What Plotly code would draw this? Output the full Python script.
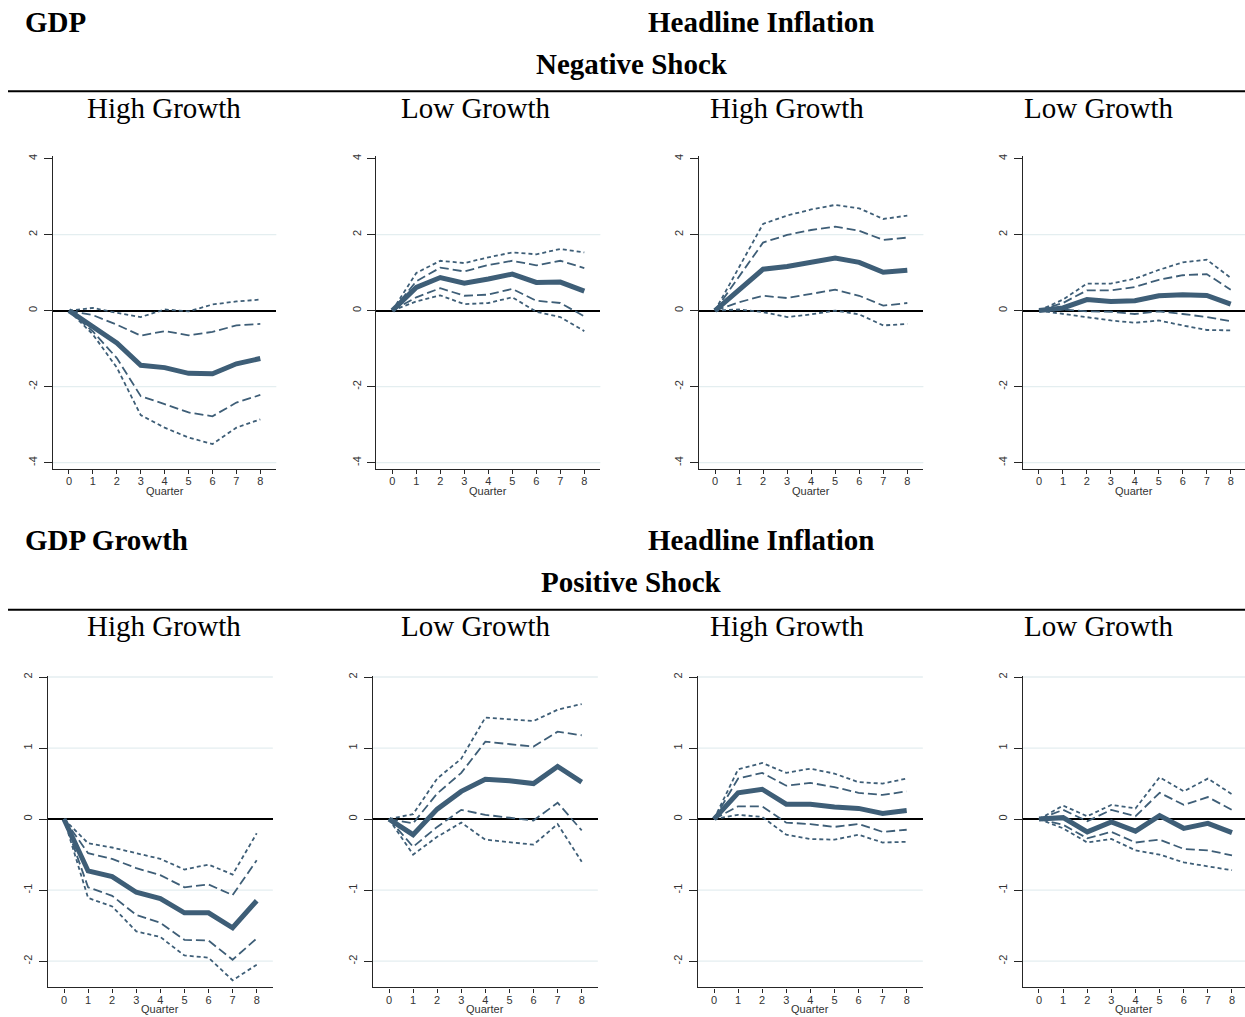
import plotly.graph_objects as go

W, H = 1245, 1017
quarters = list(range(9))

# ---- Impulse responses: point estimate (irf), 68% band (lo68/hi68), 90% band (lo90/hi90)
# GDP, negative shock, high growth
gdp_neg_high_irf = [0, -0.41, -0.85, -1.44, -1.50, -1.65, -1.66, -1.40, -1.26]
gdp_neg_high_hi68 = [0, -0.12, -0.37, -0.66, -0.54, -0.65, -0.56, -0.39, -0.35]
gdp_neg_high_hi90 = [0, 0.07, -0.06, -0.17, 0.03, -0.02, 0.16, 0.24, 0.29]
gdp_neg_high_lo68 = [0, -0.55, -1.25, -2.25, -2.46, -2.68, -2.78, -2.42, -2.22]
gdp_neg_high_lo90 = [0, -0.63, -1.50, -2.75, -3.08, -3.34, -3.51, -3.08, -2.86]

# GDP, negative shock, low growth
gdp_neg_low_irf = [0, 0.61, 0.87, 0.72, 0.83, 0.96, 0.74, 0.75, 0.51]
gdp_neg_low_hi68 = [0, 0.77, 1.13, 1.03, 1.20, 1.31, 1.19, 1.31, 1.12]
gdp_neg_low_hi90 = [0, 0.99, 1.31, 1.25, 1.40, 1.53, 1.48, 1.62, 1.53]
gdp_neg_low_lo68 = [0, 0.35, 0.59, 0.39, 0.42, 0.57, 0.26, 0.20, -0.15]
gdp_neg_low_lo90 = [0, 0.24, 0.40, 0.17, 0.20, 0.35, -0.03, -0.17, -0.54]

# Headline inflation, negative shock, high growth
inf_neg_high_irf = [0, 0.55, 1.09, 1.16, 1.27, 1.38, 1.27, 1.01, 1.06]
inf_neg_high_hi68 = [0, 0.90, 1.79, 1.99, 2.12, 2.21, 2.10, 1.86, 1.92]
inf_neg_high_hi90 = [0, 1.12, 2.28, 2.50, 2.66, 2.78, 2.69, 2.41, 2.50]
inf_neg_high_lo68 = [0, 0.22, 0.39, 0.33, 0.44, 0.55, 0.39, 0.13, 0.20]
inf_neg_high_lo90 = [0, 0.03, -0.04, -0.17, -0.10, 0.00, -0.10, -0.39, -0.35]

# Headline inflation, negative shock, low growth
inf_neg_low_irf = [0, 0.07, 0.29, 0.24, 0.26, 0.39, 0.42, 0.40, 0.17]
inf_neg_low_hi68 = [0, 0.20, 0.53, 0.53, 0.62, 0.81, 0.93, 0.96, 0.55]
inf_neg_low_hi90 = [0, 0.29, 0.71, 0.71, 0.84, 1.07, 1.27, 1.34, 0.86]
inf_neg_low_lo68 = [0, 0.03, -0.02, -0.03, -0.09, -0.02, -0.09, -0.17, -0.28]
inf_neg_low_lo90 = [0, -0.09, -0.17, -0.26, -0.32, -0.26, -0.39, -0.51, -0.52]

# GDP growth, positive shock, high growth
gdpg_pos_high_irf = [0, -0.73, -0.81, -1.03, -1.12, -1.32, -1.32, -1.53, -1.15]
gdpg_pos_high_hi68 = [0, -0.48, -0.56, -0.69, -0.79, -0.96, -0.92, -1.07, -0.58]
gdpg_pos_high_hi90 = [0, -0.34, -0.40, -0.48, -0.56, -0.71, -0.64, -0.78, -0.20]
gdpg_pos_high_lo68 = [0, -0.96, -1.08, -1.35, -1.46, -1.70, -1.71, -1.98, -1.68]
gdpg_pos_high_lo90 = [0, -1.11, -1.23, -1.58, -1.66, -1.92, -1.95, -2.27, -2.05]

# GDP growth, positive shock, low growth
gdpg_pos_low_irf = [0, -0.22, 0.14, 0.39, 0.56, 0.54, 0.50, 0.74, 0.52]
gdpg_pos_low_hi68 = [0, -0.06, 0.36, 0.65, 1.09, 1.05, 1.02, 1.23, 1.18]
gdpg_pos_low_hi90 = [0, 0.07, 0.57, 0.85, 1.43, 1.40, 1.38, 1.54, 1.62]
gdpg_pos_low_lo68 = [0, -0.39, -0.11, 0.13, 0.06, 0.02, -0.02, 0.23, -0.16]
gdpg_pos_low_lo90 = [0, -0.50, -0.25, -0.05, -0.29, -0.33, -0.36, -0.07, -0.60]

# Headline inflation, positive shock, high growth
inf_pos_high_irf = [0, 0.37, 0.42, 0.21, 0.21, 0.17, 0.15, 0.08, 0.12]
inf_pos_high_hi68 = [0, 0.57, 0.65, 0.47, 0.51, 0.45, 0.37, 0.34, 0.39]
inf_pos_high_hi90 = [0, 0.70, 0.79, 0.65, 0.71, 0.64, 0.52, 0.50, 0.57]
inf_pos_high_lo68 = [0, 0.18, 0.18, -0.05, -0.07, -0.11, -0.07, -0.18, -0.15]
inf_pos_high_lo90 = [0, 0.06, 0.03, -0.22, -0.28, -0.29, -0.22, -0.33, -0.32]

# Headline inflation, positive shock, low growth
inf_pos_low_irf = [0, 0.02, -0.18, -0.04, -0.17, 0.05, -0.13, -0.06, -0.19]
inf_pos_low_hi68 = [0, 0.13, -0.03, 0.13, 0.04, 0.37, 0.20, 0.31, 0.13]
inf_pos_low_hi90 = [0, 0.19, 0.04, 0.20, 0.15, 0.59, 0.39, 0.57, 0.35]
inf_pos_low_lo68 = [0, -0.08, -0.27, -0.18, -0.33, -0.29, -0.42, -0.44, -0.51]
inf_pos_low_lo90 = [0, -0.13, -0.33, -0.28, -0.44, -0.50, -0.61, -0.67, -0.72]

# Axis tick values and labels
top_yticks = [-4, -2, 0, 2, 4]
top_ytext = ["-4", "-2", "0", "2", "4"]
bottom_yticks = [-2, -1, 0, 1, 2]
bottom_ytext = ["-2", "-1", "0", "1", "2"]
xtick_labels = [str(q) for q in quarters]
x_title = "Quarter"

row_titles_top = ["GDP", "Headline Inflation", "Negative Shock"]
row_titles_bottom = ["GDP Growth", "Headline Inflation", "Positive Shock"]
regimes = ["High Growth", "Low Growth", "High Growth", "Low Growth"]

panels = [
    (gdp_neg_high_irf, gdp_neg_high_lo68, gdp_neg_high_hi68, gdp_neg_high_lo90, gdp_neg_high_hi90),
    (gdp_neg_low_irf, gdp_neg_low_lo68, gdp_neg_low_hi68, gdp_neg_low_lo90, gdp_neg_low_hi90),
    (inf_neg_high_irf, inf_neg_high_lo68, inf_neg_high_hi68, inf_neg_high_lo90, inf_neg_high_hi90),
    (inf_neg_low_irf, inf_neg_low_lo68, inf_neg_low_hi68, inf_neg_low_lo90, inf_neg_low_hi90),
    (gdpg_pos_high_irf, gdpg_pos_high_lo68, gdpg_pos_high_hi68, gdpg_pos_high_lo90, gdpg_pos_high_hi90),
    (gdpg_pos_low_irf, gdpg_pos_low_lo68, gdpg_pos_low_hi68, gdpg_pos_low_lo90, gdpg_pos_low_hi90),
    (inf_pos_high_irf, inf_pos_high_lo68, inf_pos_high_hi68, inf_pos_high_lo90, inf_pos_high_hi90),
    (inf_pos_low_irf, inf_pos_low_lo68, inf_pos_low_hi68, inf_pos_low_lo90, inf_pos_low_hi90),
]

# ---- Layout geometry (pixels): where quarter 0 and quarter 8 sit in each column
cols_top = [(69, 260.3), (392.3, 584.3), (715, 907.3), (1039, 1230.7)]
cols_bottom = [(64, 256.7), (389, 581.7), (714, 906.7), (1039, 1232)]
# rows: pixel of y=0, pixels per unit, y range
rows = [
    dict(zero=308.5, unit=38.125, rng=(-4.16, 4.07), ticks=top_yticks, text=top_ytext,
         grid=[-4, -2, 2]),
    dict(zero=818.5, unit=71.25, rng=(-2.37, 2.02), ticks=bottom_yticks, text=bottom_ytext,
         grid=[-2, -1, 1, 2]),
]
X_LO, X_HI = -0.67, 8.67

LINE = "#3e5e77"
AXIS = "#262626"
GRID = "#e4eef0"
SANS = "Liberation Sans, Arial, sans-serif"
TICKFONT = dict(family=SANS, size=11, color="#333333")

fig = go.Figure()
shapes = []
annotations = []

for k, series in enumerate(panels):
    r = k // 4
    c = k % 4
    row = rows[r]
    x0px, x8px = (cols_top if r == 0 else cols_bottom)[c]
    ux = (x8px - x0px) / 8.0
    left_px = x0px + X_LO * ux
    right_px = x0px + X_HI * ux
    xr_hi = X_HI
    if right_px > W:
        right_px = W
        xr_hi = (W - x0px) / ux
    top_px = row["zero"] - row["rng"][1] * row["unit"]
    bot_px = row["zero"] - row["rng"][0] * row["unit"]

    ax = "" if k == 0 else str(k + 1)
    xa, ya = "x" + ax, "y" + ax

    irf, lo68, hi68, lo90, hi90 = series
    for band in (lo90, hi90):
        fig.add_trace(go.Scatter(x=quarters, y=band, mode="lines", xaxis=xa, yaxis=ya,
                                 line=dict(color=LINE, width=1.8, dash="4px,3px"),
                                 hoverinfo="skip"))
    for band in (lo68, hi68):
        fig.add_trace(go.Scatter(x=quarters, y=band, mode="lines", xaxis=xa, yaxis=ya,
                                 line=dict(color=LINE, width=1.8, dash="9px,4px"),
                                 hoverinfo="skip"))
    fig.add_trace(go.Scatter(x=quarters, y=irf, mode="lines", xaxis=xa, yaxis=ya,
                             line=dict(color=LINE, width=5)))

    fig.layout["xaxis" + ax] = dict(
        domain=[left_px / W, right_px / W], range=[X_LO, xr_hi], anchor=ya,
        showline=True, linecolor=AXIS, linewidth=1.3, ticks="outside", ticklen=4,
        tickcolor=AXIS, tickvals=quarters, ticktext=xtick_labels, tickfont=TICKFONT,
        ticklabelstandoff=-2, showgrid=False, zeroline=False, fixedrange=True,
    )
    fig.layout["yaxis" + ax] = dict(
        domain=[1 - bot_px / H, 1 - top_px / H], range=list(row["rng"]), anchor=xa,
        showline=True, linecolor=AXIS, linewidth=1.3, ticks="outside", ticklen=8,
        tickcolor=AXIS, tickvals=row["ticks"], ticktext=row["text"], tickangle=-90,
        tickfont=TICKFONT, ticklabelstandoff=2, showgrid=False, zeroline=True,
        zerolinecolor="black", zerolinewidth=2, fixedrange=True,
    )
    for g in row["grid"]:
        shapes.append(dict(type="line", xref=xa + " domain", yref=ya, x0=0, x1=1,
                           y0=g, y1=g, layer="below", line=dict(color=GRID, width=1.3)))
    # x-axis title sits tight under the quarter labels
    annotations.append(dict(
        text=x_title, xref=xa + " domain", yref=ya + " domain", x=0.5, y=0,
        xanchor="center", yanchor="middle", yshift=-(22.5 if r == 0 else 21.5),
        showarrow=False, font=dict(family=SANS, size=11, color="#333333"),
    ))

# ---- Headings
SERIF = "Liberation Serif, Times New Roman, serif"


def text_at(txt, xpx, ypx, bold=False, anchor="center"):
    annotations.append(dict(
        text=("<b>%s</b>" % txt) if bold else txt, x=xpx / W, y=1 - ypx / H,
        xref="paper", yref="paper", xanchor=anchor, yanchor="middle", showarrow=False,
        font=dict(family=SERIF, size=29, color="black"),
    ))


for titles, y_title, y_shock, y_rule, y_sub in (
        (row_titles_top, 19, 61, 88.5, 105),
        (row_titles_bottom, 539, 581, 608.5, 625)):
    text_at(titles[0], 23, y_title, bold=True, anchor="left")
    text_at(titles[1], 760.5, y_title, bold=True)
    text_at(titles[2], 631.5, y_shock, bold=True)
    shapes.append(dict(type="line", xref="paper", yref="paper", x0=8 / W, x1=1,
                       y0=1 - y_rule / H, y1=1 - y_rule / H, line=dict(color="black", width=2)))
    for c, name in enumerate(regimes):
        text_at(name, [164, 476, 787, 1098.5][c], y_sub)

fig.update_layout(
    width=W, height=H, margin=dict(l=0, r=0, t=0, b=0),
    paper_bgcolor="white", plot_bgcolor="white", showlegend=False,
    shapes=shapes, annotations=annotations,
)

fig.write_html("out.html")
